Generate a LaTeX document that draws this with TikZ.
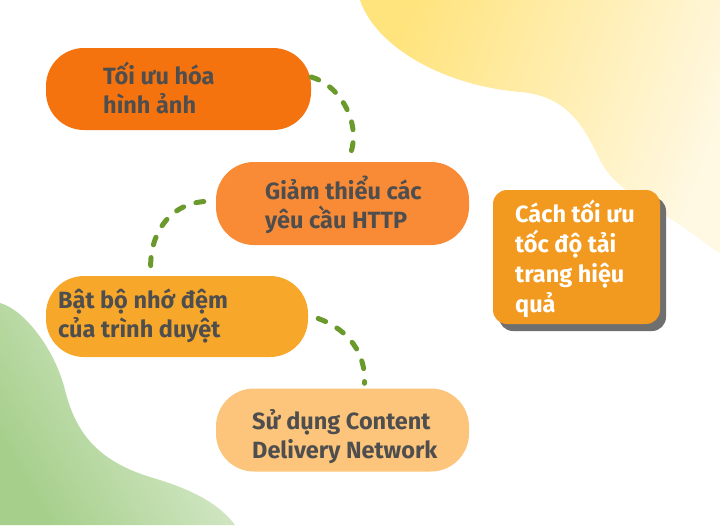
\documentclass[tikz,border=0pt]{standalone}
\usepackage{fontspec}
\setmainfont{Fira Sans}
\usetikzlibrary{calc}
\definecolor{cA}{HTML}{F4730F}
\definecolor{cB}{HTML}{F98B36}
\definecolor{cC}{HTML}{F7A82B}
\definecolor{cD}{HTML}{FDC57B}
\definecolor{cE}{HTML}{F29A1F}
\definecolor{shadowgray}{HTML}{6F6F6F}
\definecolor{txtgray}{HTML}{4E4E4E}
\definecolor{dashgreen}{HTML}{6A9A2C}
\definecolor{yelA}{HTML}{FFE37C}
\definecolor{yelB}{HTML}{FFF8E2}
\definecolor{grnA}{HTML}{A6CF8B}
\definecolor{grnB}{HTML}{E1EFD8}
\tikzset{
  pill/.style={draw=none, rounded corners=38pt, inner sep=0pt},
  txt/.style={anchor=north west, align=left, inner sep=0pt, font=\bfseries\fontsize{23.5}{29}\selectfont, text=txtgray},
  conn/.style={draw=dashgreen, line width=5pt, line cap=round, dash pattern=on 8pt off 13pt},
}
\begin{document}
\begin{tikzpicture}[x=1pt, y=-1pt]
\useasboundingbox (0,0) rectangle (720,525);
\fill[white] (0,0) rectangle (720,525);
% background blobs
\shade[left color=yelA, right color=yelB, shading angle=70]
  (360,0) .. controls (375,45) and (440,85) .. (520,92)
  .. controls (570,96) and (585,130) .. (600,160)
  .. controls (615,190) and (650,205) .. (680,225)
  .. controls (700,238) and (710,248) .. (720,253) -- (720,0) -- cycle;
\shade[left color=grnA, right color=grnB, shading angle=120]
  (0,303) .. controls (25,310) and (55,350) .. (65,390)
  .. controls (75,430) and (95,460) .. (150,477)
  .. controls (195,490) and (220,505) .. (235,525) -- (0,525) -- cycle;
% boxes
\node[pill, fill=cA, minimum width=265pt, minimum height=82pt] (b1) at (178.5,89) {};
\node[pill, fill=cB, minimum width=253pt, minimum height=83pt] (b2) at (342.5,203.5) {};
\node[pill, fill=cC, minimum width=262pt, minimum height=81pt] (b3) at (177,316.5) {};
\node[pill, fill=cD, minimum width=253pt, minimum height=83pt] (b4) at (342.5,430) {};
\fill[shadowgray, rounded corners=14pt] (499,197) rectangle (666,331);
\node[draw=none, fill=cE, rounded corners=14pt, minimum width=167pt, minimum height=134pt, inner sep=0pt] (b5) at (576.5,257) {};
% texts
\node[txt] (t1) at (103,62) {Tối ưu hóa\\hình ảnh};
\node[txt] (t2) at (265,176) {Giảm thiểu các\\yêu cầu HTTP};
\node[txt] (t3) at (58,289) {Bật bộ nhớ đệm\\của trình duyệt};
\node[txt] (t4) at (252,409) {Sử dụng Content\\Delivery Network};
\node[txt, text=white, font=\bfseries\fontsize{23.5}{30}\selectfont] (t5) at (515,200) {Cách tối ưu\\tốc độ tải\\trang hiệu\\quả};
% dashed connectors
\draw[conn] ($(b1.east)+(0,-12)$) .. controls (340,85) and (364,125) .. ($(b2.north)+(6,-3)$);
\draw[conn] ($(b2.west)+(-12,-2)$) .. controls (165,205) and (148,240) .. ($(b3.north)+(-26,-3)$);
\draw[conn] ($(b3.east)+(10,2)$) .. controls (350,330) and (366,355) .. ($(b4.north)+(22,-5)$);
\end{tikzpicture}
\end{document}
